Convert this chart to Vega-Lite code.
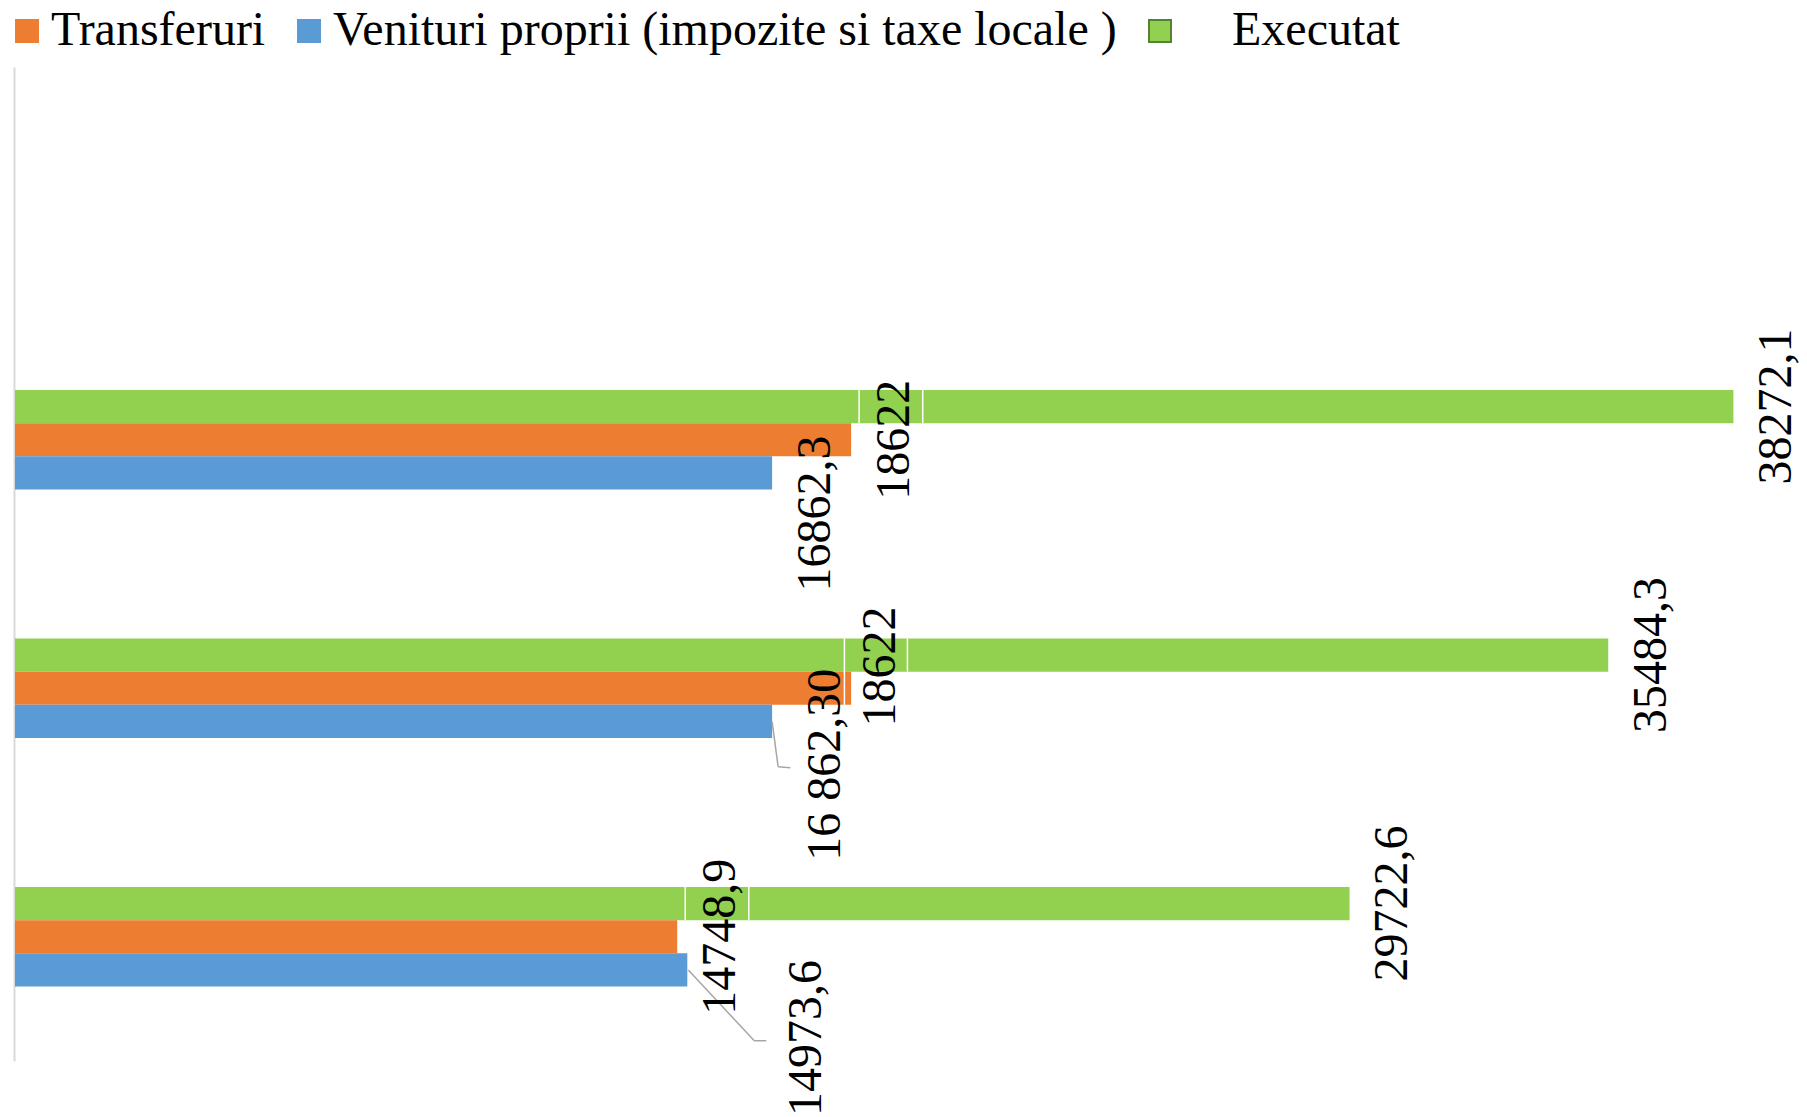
{
  "$schema": "https://vega.github.io/schema/vega-lite/v6.json",
  "width": 1787,
  "height": 994,
  "autosize": {"type": "none"},
  "padding": {"left": 15, "top": 67, "right": 5, "bottom": 56},
  "background": "white",
  "config": {"view": {"stroke": null}, "font": "Liberation Serif", "text": {"font": "Liberation Serif"}},
  "data": {
    "values": [
      {"group": "B", "series": "Executat", "value": 38272.1, "label": "38272,1"},
      {"group": "B", "series": "Transferuri", "value": 18622, "label": "18622"},
      {"group": "B", "series": "Venituri proprii (impozite si taxe locale )", "value": 16862.3, "label": "16862,3"},
      {"group": "C", "series": "Executat", "value": 35484.3, "label": "35484,3"},
      {"group": "C", "series": "Transferuri", "value": 18622, "label": "18622"},
      {"group": "C", "series": "Venituri proprii (impozite si taxe locale )", "value": 16862.3, "label": "16 862,30"},
      {"group": "D", "series": "Executat", "value": 29722.6, "label": "29722,6"},
      {"group": "D", "series": "Transferuri", "value": 14748.9, "label": "14748,9"},
      {"group": "D", "series": "Venituri proprii (impozite si taxe locale )", "value": 14973.6, "label": "14973,6"}
    ]
  },
  "encoding": {
    "y": {
      "field": "group",
      "type": "nominal",
      "scale": {"domain": ["A", "B", "C", "D"], "paddingInner": 0.6, "paddingOuter": 0.3},
      "axis": {"title": null, "labels": false, "ticks": false, "grid": false, "domain": true, "domainColor": "#D9D9D9", "domainWidth": 2, "offset": 1}
    },
    "x": {
      "field": "value",
      "type": "quantitative",
      "scale": {"domain": [0, 39800], "nice": false, "zero": true},
      "axis": null
    }
  },
  "layer": [
    {
      "mark": {"type": "bar", "strokeWidth": 0},
      "encoding": {
        "yOffset": {
          "field": "series",
          "type": "nominal",
          "scale": {"domain": ["Executat", "Transferuri", "Venituri proprii (impozite si taxe locale )"], "paddingInner": 0, "paddingOuter": 0}
        },
        "color": {
          "field": "series",
          "type": "nominal",
          "scale": {
            "domain": ["Transferuri", "Venituri proprii (impozite si taxe locale )", "Executat"],
            "range": ["#ED7D31", "#5B9BD5", "#92D050"]
          },
          "legend": {
            "title": null,
            "orient": "none",
            "legendX": -12,
            "legendY": -60,
            "direction": "horizontal",
            "columnPadding": 19,
            "labelOffset": 0,
            "symbolType": "square",
            "symbolSize": 484,
            "symbolStrokeWidth": 2,
            "labelFont": "Liberation Serif",
            "labelFontSize": 48,
            "labelColor": "black",
            "labelLimit": 2000,
            "padding": 0,
            "labelExpr": "datum.label == 'Executat' ? '\\u200B\\u00a0\\u00a0\\u00a0\\u00a0Executat' : datum.label"
          }
        },
        "stroke": {
          "field": "series",
          "type": "nominal",
          "scale": {
            "domain": ["Transferuri", "Venituri proprii (impozite si taxe locale )", "Executat"],
            "range": ["#ED7D31", "#5B9BD5", "#548235"]
          },
          "legend": {
            "title": null,
            "orient": "none",
            "legendX": -12,
            "legendY": -60,
            "direction": "horizontal",
            "columnPadding": 19,
            "labelOffset": 0,
            "symbolType": "square",
            "symbolSize": 484,
            "symbolStrokeWidth": 2,
            "labelFont": "Liberation Serif",
            "labelFontSize": 48,
            "labelColor": "black",
            "labelLimit": 2000,
            "padding": 0,
            "labelExpr": "datum.label == 'Executat' ? '\\u200B\\u00a0\\u00a0\\u00a0\\u00a0Executat' : datum.label"
          }
        }
      }
    },
    {
      "transform": [{"filter": "datum.series == 'Transferuri' && datum.group != 'C'"}],
      "mark": {"type": "tick", "color": "white", "opacity": 1, "thickness": 1.5, "orient": "vertical", "xOffset": 8, "yOffset": -33.3},
      "encoding": {"size": {"value": 33.3}}
    },
    {
      "transform": [{"filter": "datum.series == 'Transferuri' && datum.group != 'C'"}],
      "mark": {"type": "tick", "color": "white", "opacity": 1, "thickness": 1.5, "orient": "vertical", "xOffset": 71.6, "yOffset": -33.3},
      "encoding": {"size": {"value": 33.3}}
    },
    {
      "transform": [{"filter": "datum.series == 'Transferuri' && datum.group == 'C'"}],
      "mark": {"type": "tick", "color": "white", "opacity": 1, "thickness": 1.5, "orient": "vertical", "xOffset": -6.7, "yOffset": -16.7},
      "encoding": {"size": {"value": 67}}
    },
    {
      "transform": [{"filter": "datum.series == 'Transferuri' && datum.group == 'C'"}],
      "mark": {"type": "tick", "color": "white", "opacity": 1, "thickness": 1.5, "orient": "vertical", "xOffset": 56.3, "yOffset": -33.3},
      "encoding": {"size": {"value": 33.3}}
    },
    {
      "transform": [{"filter": "indexof(datum.series, 'Venituri') == 0 && datum.group == 'C'"}],
      "mark": {"type": "rule", "color": "#A6A6A6", "strokeWidth": 1.5, "xOffset": 0, "x2Offset": 6, "yOffset": 33.3, "y2Offset": 78.4},
      "encoding": {"x2": {"field": "value"}, "y2": {"field": "group"}}
    },
    {
      "transform": [{"filter": "indexof(datum.series, 'Venituri') == 0 && datum.group == 'C'"}],
      "mark": {"type": "rule", "color": "#A6A6A6", "strokeWidth": 1.5, "xOffset": 6, "x2Offset": 18.3, "yOffset": 78.4, "y2Offset": 79.4},
      "encoding": {"x2": {"field": "value"}, "y2": {"field": "group"}}
    },
    {
      "transform": [{"filter": "indexof(datum.series, 'Venituri') == 0 && datum.group == 'D'"}],
      "mark": {"type": "rule", "color": "#A6A6A6", "strokeWidth": 1.5, "xOffset": 1, "x2Offset": 67, "yOffset": 33.3, "y2Offset": 104},
      "encoding": {"x2": {"field": "value"}, "y2": {"field": "group"}}
    },
    {
      "transform": [{"filter": "indexof(datum.series, 'Venituri') == 0 && datum.group == 'D'"}],
      "mark": {"type": "rule", "color": "#A6A6A6", "strokeWidth": 1.5, "xOffset": 67, "x2Offset": 79, "yOffset": 104, "y2Offset": 104},
      "encoding": {"x2": {"field": "value"}, "y2": {"field": "group"}}
    },
    {
      "transform": [{"filter": "datum.series == 'Executat' || (datum.series == 'Transferuri' && datum.group != 'C')"}],
      "mark": {"type": "text", "angle": 270, "align": "center", "baseline": "middle", "font": "Liberation Serif", "fontSize": 48, "color": "black", "dx": 0, "dy": 43.5},
      "encoding": {"yOffset": {"field": "series", "type": "nominal"}, "text": {"field": "label"}}
    },
    {
      "transform": [{"filter": "datum.series == 'Transferuri' && datum.group == 'C'"}],
      "mark": {"type": "text", "angle": 270, "align": "center", "baseline": "middle", "font": "Liberation Serif", "fontSize": 48, "color": "black", "dx": 21.7, "dy": 29.4},
      "encoding": {"yOffset": {"field": "series", "type": "nominal"}, "text": {"field": "label"}}
    },
    {
      "transform": [{"filter": "indexof(datum.series, 'Venituri') == 0 && datum.group == 'B'"}],
      "mark": {"type": "text", "angle": 270, "align": "center", "baseline": "middle", "font": "Liberation Serif", "fontSize": 48, "color": "black", "dx": -40.7, "dy": 43.4},
      "encoding": {"yOffset": {"field": "series", "type": "nominal"}, "text": {"field": "label"}}
    },
    {
      "transform": [{"filter": "indexof(datum.series, 'Venituri') == 0 && datum.group == 'C'"}],
      "mark": {"type": "text", "angle": 270, "align": "center", "baseline": "middle", "font": "Liberation Serif", "fontSize": 48, "color": "black", "dx": -43.3, "dy": 53.4},
      "encoding": {"yOffset": {"field": "series", "type": "nominal"}, "text": {"field": "label"}}
    },
    {
      "transform": [{"filter": "indexof(datum.series, 'Venituri') == 0 && datum.group == 'D'"}],
      "mark": {"type": "text", "angle": 270, "align": "center", "baseline": "middle", "font": "Liberation Serif", "fontSize": 48, "color": "black", "dx": -68, "dy": 119.2},
      "encoding": {"yOffset": {"field": "series", "type": "nominal"}, "text": {"field": "label"}}
    }
  ]
}
